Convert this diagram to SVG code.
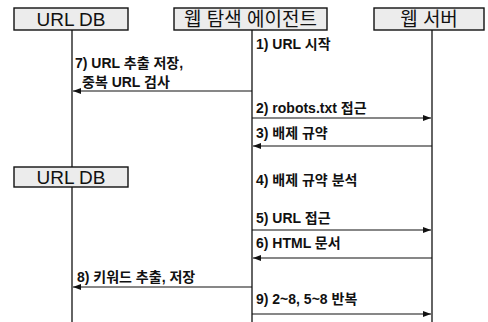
<svg xmlns="http://www.w3.org/2000/svg" width="488" height="322" viewBox="0 0 488 322">
<style>
.box{fill:#ececec;stroke:#111;stroke-width:1.4}
.bt{font-family:"Liberation Sans","Noto Sans CJK KR",sans-serif;font-size:19px;fill:#111;text-anchor:middle}
.lt{font-family:"Liberation Sans","Noto Sans CJK KR",sans-serif;font-size:14px;font-weight:bold;fill:#111}
.life{stroke:#111;stroke-width:1.3;fill:none}
.msg{stroke:#111;stroke-width:1.1;fill:none;marker-end:url(#ah)}
</style>
<defs>
<marker id="ah" viewBox="0 0 8 6" refX="8" refY="3" markerWidth="8" markerHeight="6" markerUnits="userSpaceOnUse" orient="auto">
<path d="M0,0 L8,3 L0,6 z" fill="#111"/>
</marker>
</defs>
<g id="lifelines">
<line class="life" x1="72" y1="30" x2="72" y2="167"/>
<line class="life" x1="72" y1="187" x2="72" y2="322"/>
<line class="life" x1="252" y1="30" x2="252" y2="322"/>
<line class="life" x1="432" y1="30" x2="432" y2="322"/>
</g>
<g id="urldb1">
<rect class="box" x="14" y="8" width="114" height="22"/>
<text class="bt" x="71" y="26">URL DB</text>
</g>
<g id="agent">
<rect class="box" x="174" y="8" width="153" height="22"/>
<text class="bt" x="250.5" y="26">웹 탐색 에이전트</text>
</g>
<g id="webserver">
<rect class="box" x="374" y="8" width="110" height="22"/>
<text class="bt" x="429" y="26">웹 서버</text>
</g>
<g id="urldb2">
<rect class="box" x="14" y="167" width="114" height="20"/>
<text class="bt" x="71" y="184">URL DB</text>
</g>
<g id="connectors">
<line class="msg" x1="252" y1="91" x2="73" y2="91"/>
<line class="msg" x1="252" y1="118" x2="431" y2="118"/>
<line class="msg" x1="432" y1="146" x2="253" y2="146"/>
<line class="msg" x1="252" y1="230" x2="431" y2="230"/>
<line class="msg" x1="432" y1="258" x2="253" y2="258"/>
<line class="msg" x1="252" y1="287" x2="73" y2="287"/>
<line class="msg" x1="252" y1="314" x2="431" y2="314"/>
</g>
<g id="labels">
<text class="lt" x="256" y="49">1) URL 시작</text>
<text class="lt" x="75" y="68">7) URL 추출 저장,</text>
<text class="lt" x="82" y="87">중복 URL 검사</text>
<text class="lt" x="256" y="113">2) robots.txt 접근</text>
<text class="lt" x="256" y="138">3) 배제 규약</text>
<text class="lt" x="256" y="185">4) 배제 규약 분석</text>
<text class="lt" x="256" y="223">5) URL 접근</text>
<text class="lt" x="256" y="248">6) HTML 문서</text>
<text class="lt" x="77" y="282">8) 키워드 추출, 저장</text>
<text class="lt" x="256" y="304">9) 2~8, 5~8 반복</text>
</g>
</svg>
